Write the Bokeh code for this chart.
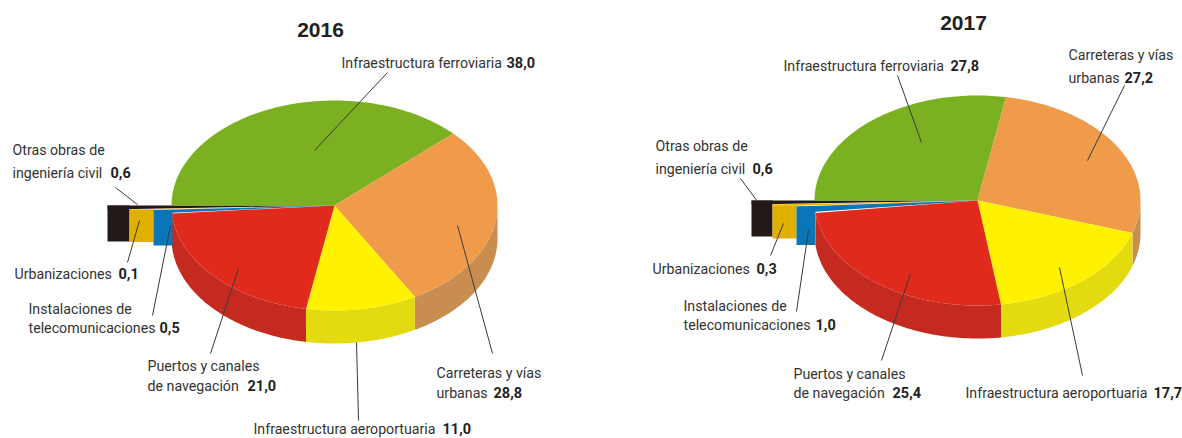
import numpy as np
from bokeh.plotting import figure
from bokeh.embed import file_html
from bokeh.resources import INLINE
from bokeh.core.properties import value
from bokeh.models import Range1d

# ---- data
categories = ["Otras obras de ingeniería civil", "Infraestructura ferroviaria", "Carreteras y vías urbanas",
              "Infraestructura aeroportuaria", "Puertos y canales de navegación",
              "Instalaciones de telecomunicaciones", "Urbanizaciones"]
values_2016 = [0.6, 38.0, 28.8, 11.0, 21.0, 0.5, 0.1]
values_2017 = [0.6, 27.8, 27.2, 17.7, 25.4, 1.0, 0.3]
titles = ["2016", "2017"]

# ---- style / layout
top_colors = ["#211a17", "#7bb021", "#ef9b4a", "#fff200", "#e02a1c", "#0a76b8", "#f0bb00"]
side_colors = ["#211a17", "#7bb021", "#c98d50", "#e3db10", "#c52a20", "#0a76b8", "#e0b000"]
W, H = 1182, 438
RY, DEPTH = 105, 33
FONT = "Roboto"
FS = "14.2px"
FS_BOLD = "14.5px"

p = figure(width=W, height=H, output_backend="svg", toolbar_location=None,
           x_range=Range1d(0, W), y_range=Range1d(H, 0),
           min_border=0, outline_line_color=None)
p.axis.visible = False
p.grid.visible = False


def arc(a0, a1, cx, cy, rx, n=80):
    t = np.radians(np.linspace(a0, a1, n))
    return cx + rx * np.cos(t), cy - RY * np.sin(t)


def draw_pie(vals, cx, cy, rx, lefts):
    # main wedges run clockwise from the left rim (180 deg): green, orange, yellow, red
    rng = {}
    b = 180.0
    for i in [1, 2, 3, 4]:
        rng[i] = (b, b - vals[i] * 3.6)
        b -= vals[i] * 3.6
    # sides: only the part of each wedge in the lower half (-180..0)
    for i in [1, 2, 3, 4]:
        hi = min(rng[i][0], 0)
        lo = max(rng[i][1], -180)
        if hi <= lo:
            continue
        x1, y1 = arc(hi, lo, cx, cy, rx)
        p.patch(np.r_[x1, x1[::-1]], np.r_[y1, (y1 + DEPTH)[::-1]],
                fill_color=side_colors[i], line_color=None)
    # exploded slivers fill the gap from the left rim down to the end of the red wedge
    a = 180.0
    for k, i in enumerate([0, 6, 5]):
        a0, a1 = a + vals[i] * 3.6, a
        a = a0
        L, R = lefts[k], lefts[k + 1]
        xa, ya = arc(a0, a1, cx, cy, cx - L, 6)
        p.patch([L, R, R, L], [ya[-1], ya[-1], ya[0] + DEPTH - 1, ya[0] + DEPTH - 1],
                fill_color=side_colors[i], line_color=None)
        p.patch(np.r_[cx, xa], np.r_[cy, ya], fill_color=top_colors[i], line_color=None)
    # top faces
    for i in [1, 2, 3, 4]:
        x1, y1 = arc(rng[i][0], rng[i][1], cx, cy, rx)
        p.patch(np.r_[cx, x1], np.r_[cy, y1], fill_color=top_colors[i], line_color=None)


draw_pie(values_2016, 334, 205, 163, [107, 129, 153, 172])
draw_pie(values_2017, 977, 200, 163, [751, 772, 796, 815])

# ---- leader lines
leaders_x = [[387, 314], [457, 492], [356, 358], [238, 210], [170, 152], [139, 127], [115, 137],
             [897, 921], [1124, 1087], [1059, 1082], [910, 881], [808, 796], [783, 770], [740, 757]]
leaders_y = [[72, 150], [225, 353], [342, 420], [268, 353], [225, 315], [220, 262], [187, 204],
             [75, 142], [85, 160], [267, 375], [273, 360], [230, 311], [223, 255], [178, 201]]
p.multi_line(leaders_x, leaders_y, line_color="#3a3a3a", line_width=1)

# ---- labels: (x, y, regular text, bold x, bold text)
labels = [
    (341, 62, "Infraestructura ferroviaria", 506, "38,0"),
    (12, 149, "Otras obras de", 0, ""),
    (12, 172, "ingeniería civil", 110, "0,6"),
    (14, 273, "Urbanizaciones", 118, "0,1"),
    (28, 308, "Instalaciones de", 0, ""),
    (28, 327, "telecomunicaciones", 159, "0,5"),
    (147, 365, "Puertos y canales", 0, ""),
    (147, 385, "de navegación", 247, "21,0"),
    (436, 372, "Carreteras y vías", 0, ""),
    (436, 392, "urbanas", 493, "28,8"),
    (253, 428, "Infraestructura aeroportuaria", 442, "11,0"),
    (783, 65, "Infraestructura ferroviaria", 950, "27,8"),
    (1068, 54, "Carreteras y vías", 0, ""),
    (1068, 77, "urbanas", 1124, "27,2"),
    (655, 145, "Otras obras de", 0, ""),
    (655, 168, "ingeniería civil", 752, "0,6"),
    (652, 268, "Urbanizaciones", 756, "0,3"),
    (683, 305, "Instalaciones de", 0, ""),
    (683, 324, "telecomunicaciones", 815, "1,0"),
    (793, 373, "Puertos y canales", 0, ""),
    (793, 392, "de navegación", 892, "25,4"),
    (965, 392, "Infraestructura aeroportuaria", 1153, "17,7"),
]
p.text([l[0] for l in labels], [l[1] for l in labels], text=[l[2] for l in labels],
       text_font=value(FONT), text_font_size=FS,
       text_baseline="middle", text_align="left", text_color="#333333")
bold = [l for l in labels if l[4]]
p.text([l[3] for l in bold], [l[1] for l in bold], text=[l[4] for l in bold],
       text_font=value(FONT), text_font_size=FS_BOLD, text_font_style="bold",
       text_baseline="middle", text_align="left", text_color="#231f20")

p.text([320, 963], [29, 22], text=titles, text_font=value("Liberation Sans"), text_font_size="21px",
       text_font_style="bold", text_baseline="middle", text_align="center", text_color="#231f20")

open("out.html", "w").write(file_html(p, INLINE))
